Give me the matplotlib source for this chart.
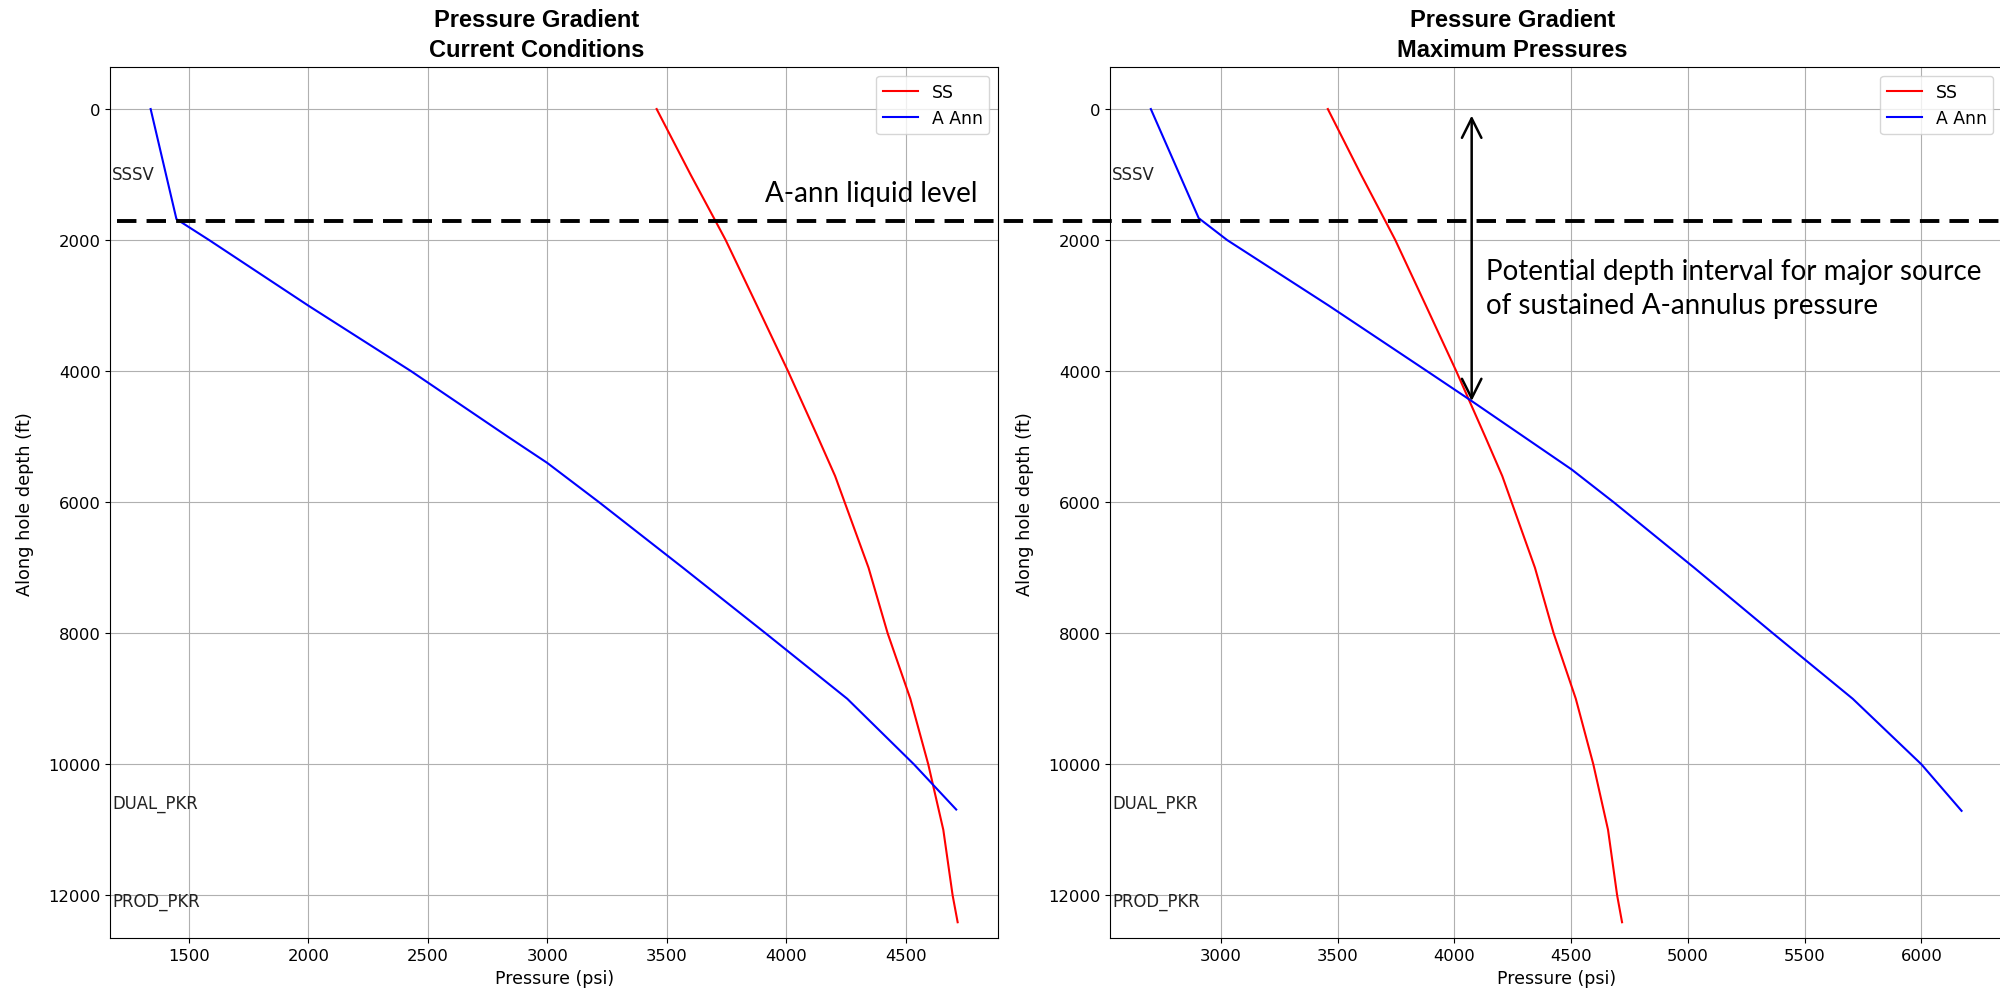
import matplotlib.pyplot as plt
from matplotlib import transforms
from matplotlib.lines import Line2D

# pressure profiles, depth in ft (along hole), pressure in psi
ss_depth = [0, 1000, 1720, 2000, 3000, 4000, 5000, 5600, 6000, 7000, 8000, 9000, 10000, 11000, 12000, 12410]
ss_psi = [3458, 3600, 3706, 3747, 3878, 4008, 4132, 4205, 4245, 4345, 4425, 4520, 4595, 4658, 4697, 4718]

ann_cur_depth = [0, 1680, 2000, 3000, 4000, 5000, 5400, 6000, 7000, 8000, 9000, 10000, 10690]
ann_cur_psi = [1340, 1448, 1585, 2000, 2430, 2835, 3000, 3217, 3568, 3914, 4256, 4535, 4712]

ann_max_depth = [0, 1665, 2000, 3000, 4000, 4456, 5000, 5500, 6000, 7000, 8000, 9000, 10000, 10710]
ann_max_psi = [2700, 2905, 3027, 3462, 3883, 4074, 4297, 4502, 4682, 5027, 5364, 5706, 6000, 6172]

# completion components
comp_names = ["SSSV", "DUAL_PKR", "PROD_PKR"]
comp_depth = [990, 10585, 12080]

liquid_level = 1711
arrow_psi = 4074
arrow_top = 100
arrow_bottom = 4456


def draw_panel(ax, ann_psi, ann_depth):
    ax.plot(ss_psi, ss_depth, color="red", lw=1.5, label="SS")
    ax.plot(ann_psi, ann_depth, color="blue", lw=1.5, label="A Ann")
    ax.set_ylim(12655, -637)
    ax.grid(True, color="#b0b0b0", lw=0.8)
    ax.set_axisbelow(True)
    ax.set_xlabel("Pressure (psi)", fontsize=12.5)
    ax.set_ylabel("Along hole depth (ft)", fontsize=12.8)
    ax.yaxis.set_label_coords(-0.0856, 0.5)
    ax.tick_params(labelsize=11.8)

    trans = transforms.blended_transform_factory(ax.transAxes, ax.transData)
    for name, d in zip(comp_names, comp_depth):
        ax.text(0.002, d, name, transform=trans, ha="left", va="center",
                fontsize=11.9, color="#222222")
    ax.legend(loc="upper right", fontsize=12.4)


fig = plt.figure(figsize=(20, 9.95), dpi=100)
ax1 = fig.add_axes([0.05515, 0.05598, 0.44385, 0.87538])
ax2 = fig.add_axes([0.55515, 0.05598, 0.44590, 0.87538])

draw_panel(ax1, ann_cur_psi, ann_cur_depth)
draw_panel(ax2, ann_max_psi, ann_max_depth)

# titles (slightly off-centre, as in the source); anchored on the last line baseline
fig.text(0.2685, 0.9430, "Pressure Gradient\nCurrent Conditions", ha="center",
         va="baseline", fontsize=17, fontweight="bold", family="Liberation Sans",
         linespacing=1.37)
fig.text(0.7563, 0.9430, "Pressure Gradient\nMaximum Pressures", ha="center",
         va="baseline", fontsize=17, fontweight="bold", family="Liberation Sans",
         linespacing=1.37)

# liquid level across both panels
lvl_trans = transforms.blended_transform_factory(fig.transFigure, ax1.transData)
fig.add_artist(Line2D([0.0585, 1.0], [liquid_level, liquid_level], transform=lvl_trans,
                      color="black", lw=2.8, dashes=(5, 2.6)))
ax1.text(3910, 1401, "A-ann liquid level", ha="left", va="baseline",
         fontsize=20, family="Lato", clip_on=False)

# interval of interest
ax2.annotate("", xy=(arrow_psi, arrow_top), xytext=(arrow_psi, arrow_bottom),
             arrowprops=dict(arrowstyle="<->,head_length=0.7,head_width=0.35",
                             lw=1.8, color="black", mutation_scale=20,
                             shrinkA=0, shrinkB=0))
ax2.text(4134, 3117, "Potential depth interval for major source\nof sustained A-annulus pressure",
         ha="left", va="baseline", fontsize=20, family="Lato", linespacing=1.39)

fig.savefig("out.png", dpi=100)
